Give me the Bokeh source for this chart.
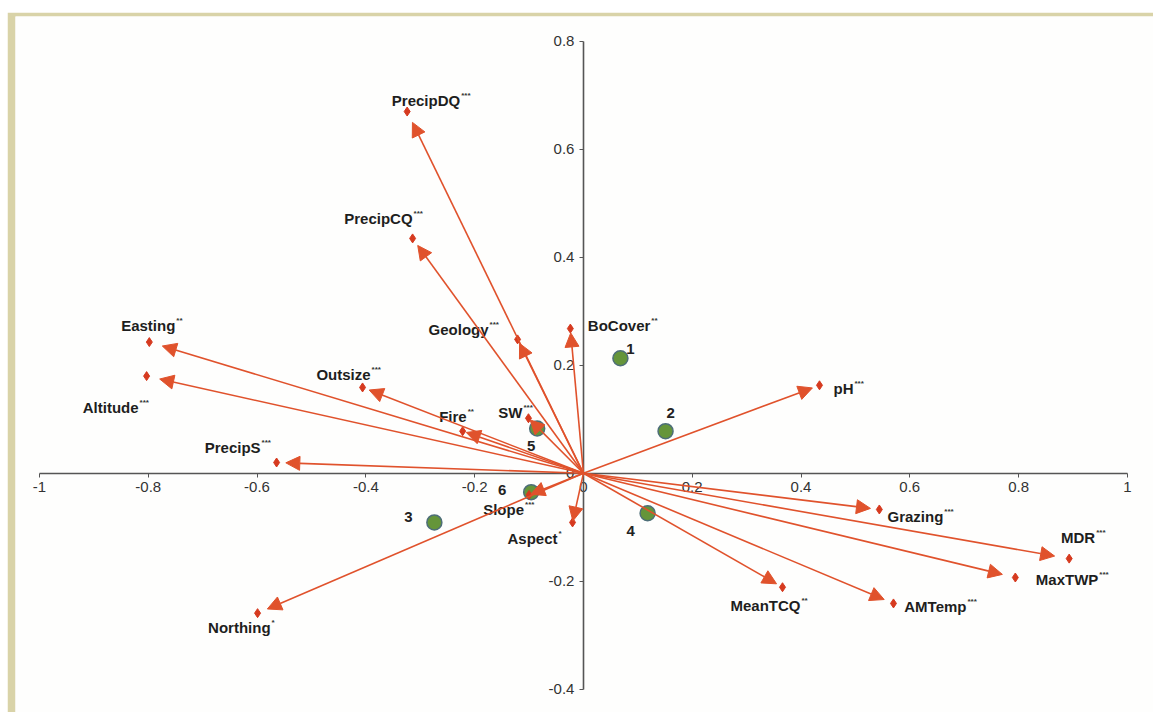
from bokeh.plotting import figure
from bokeh.models import (ColumnDataSource, Range1d, FixedTicker, CustomJSTickFormatter,
                          Arrow, NormalHead, Spacer)
from bokeh.layouts import column, row
from bokeh.core.properties import value
from bokeh.embed import file_html
from bokeh.resources import INLINE

# ---------------- data ----------------
variables = ["PrecipDQ", "PrecipCQ", "Easting", "Altitude", "Outsize", "PrecipS", "Fire",
             "SW", "Geology", "BoCover", "pH", "Grazing", "MDR", "MaxTWP", "MeanTCQ",
             "AMTemp", "Northing", "Slope", "Aspect"]
signif = ["***", "***", "**", "***", "***", "***", "**", "***", "***", "**", "***", "***",
          "***", "***", "**", "***", "*", "***", "*"]
axis1 = [-0.324, -0.314, -0.798, -0.803, -0.406, -0.564, -0.222, -0.101, -0.121, -0.024,
         0.434, 0.544, 0.893, 0.794, 0.366, 0.570, -0.599, -0.100, -0.020]
axis2 = [0.670, 0.435, 0.243, 0.180, 0.159, 0.020, 0.078, 0.102, 0.248, 0.268,
         0.163, -0.067, -0.158, -0.193, -0.211, -0.241, -0.259, -0.040, -0.091]

site_ids = ["1", "2", "3", "4", "5", "6"]
site_x = [0.068, 0.151, -0.274, 0.118, -0.085, -0.096]
site_y = [0.213, 0.078, -0.091, -0.074, 0.083, -0.035]

x_ticks = [-1, -0.8, -0.6, -0.4, -0.2, 0, 0.2, 0.4, 0.6, 0.8, 1]
y_ticks = [-0.4, -0.2, 0, 0.2, 0.4, 0.6, 0.8]

# ---------------- layout (pixel offsets for labels) ----------------
label_dx = [53, 0, 26, -8, 8, -16, 4, -6, -29, 80, 34, 64, 26, 83, 18, 73, 13, -5, -15]
label_dy = [-11, -20, -17, 31, -13, -15, -15, -6, -10, -3, 3, 7, -21, 2, 18, 3, 14, 15, 16]
site_dx = [10, 5, -26, -17, -6, -29]
site_dy = [-9, -18, -5, 18, 18, -2]
head_frac = 0.97

RED = "#e0522c"
DIAMOND = "#d63a1f"
FONT = "Liberation Sans"

p = figure(width=1138 + 8, height=696 + 4, output_backend="svg", toolbar_location=None,
           x_range=Range1d(-1.044, 1.048), y_range=Range1d(-0.443, 0.846),
           min_border_left=8, min_border_top=4, min_border_right=0, min_border_bottom=0)
p.border_fill_color = "#d9d3a8"
p.background_fill_color = "#fefefd"
p.outline_line_color = None
p.grid.visible = False

for ax, ticks, bounds in ((p.xaxis, x_ticks, (-1, 1)), (p.yaxis, y_ticks, (-0.4, 0.8))):
    ax.fixed_location = 0
    ax.bounds = bounds
    ax.ticker = FixedTicker(ticks=ticks)
    ax.formatter = CustomJSTickFormatter(code="return String(tick)")
    ax.axis_line_color = "#555555"
    ax.axis_line_width = 1.6
    ax.major_tick_line_color = "#555555"
    ax.major_tick_out = 4
    ax.major_tick_in = 0
    ax.minor_tick_line_color = None
    ax.major_label_text_font = FONT
    ax.major_label_text_font_size = "15px"
    ax.major_label_text_color = "#333333"

# sites
sites = ColumnDataSource(dict(x=site_x, y=site_y, t=site_ids, dx=site_dx, dy=site_dy))
p.scatter("x", "y", source=sites, size=15, marker="circle",
          fill_color="#65953a", line_color="#4d6e78", line_width=1.5)
p.text("x", "y", text="t", source=sites, x_offset="dx", y_offset="dy",
       text_align="center", text_baseline="middle", text_font=value(FONT),
       text_font_style="bold", text_font_size="15px", text_color="#222222")

# arrows
arr = ColumnDataSource(dict(
    x0=[0.0] * len(axis1), y0=[0.0] * len(axis1),
    x1=[v * head_frac for v in axis1], y1=[v * head_frac for v in axis2]))
p.add_layout(Arrow(end=NormalHead(size=14, fill_color=RED, line_color=RED),
                   x_start="x0", y_start="y0", x_end="x1", y_end="y1", source=arr,
                   line_color=RED, line_width=1.6))

# variable points and labels
var = ColumnDataSource(dict(x=axis1, y=axis2, name=variables, sig=signif,
                            dx=label_dx, dy=label_dy,
                            sdx=[d + 1 for d in label_dx], sdy=[d - 5 for d in label_dy]))
p.scatter("x", "y", source=var, marker="diamond", size=9,
          fill_color=DIAMOND, line_color=DIAMOND)
p.text("x", "y", text="name", source=var, x_offset="dx", y_offset="dy",
       text_align="right", text_baseline="middle", text_font=value(FONT),
       text_font_style="bold", text_font_size="15px", text_color="#1e1e1e")
p.text("x", "y", text="sig", source=var, x_offset="sdx", y_offset="sdy",
       text_align="left", text_baseline="middle", text_font=value(FONT),
       text_font_style="bold", text_font_size="8px", text_color="#333333")

layout = column(Spacer(height=12), row(Spacer(width=7), p))
open("out.html", "w").write(file_html(layout, INLINE))
